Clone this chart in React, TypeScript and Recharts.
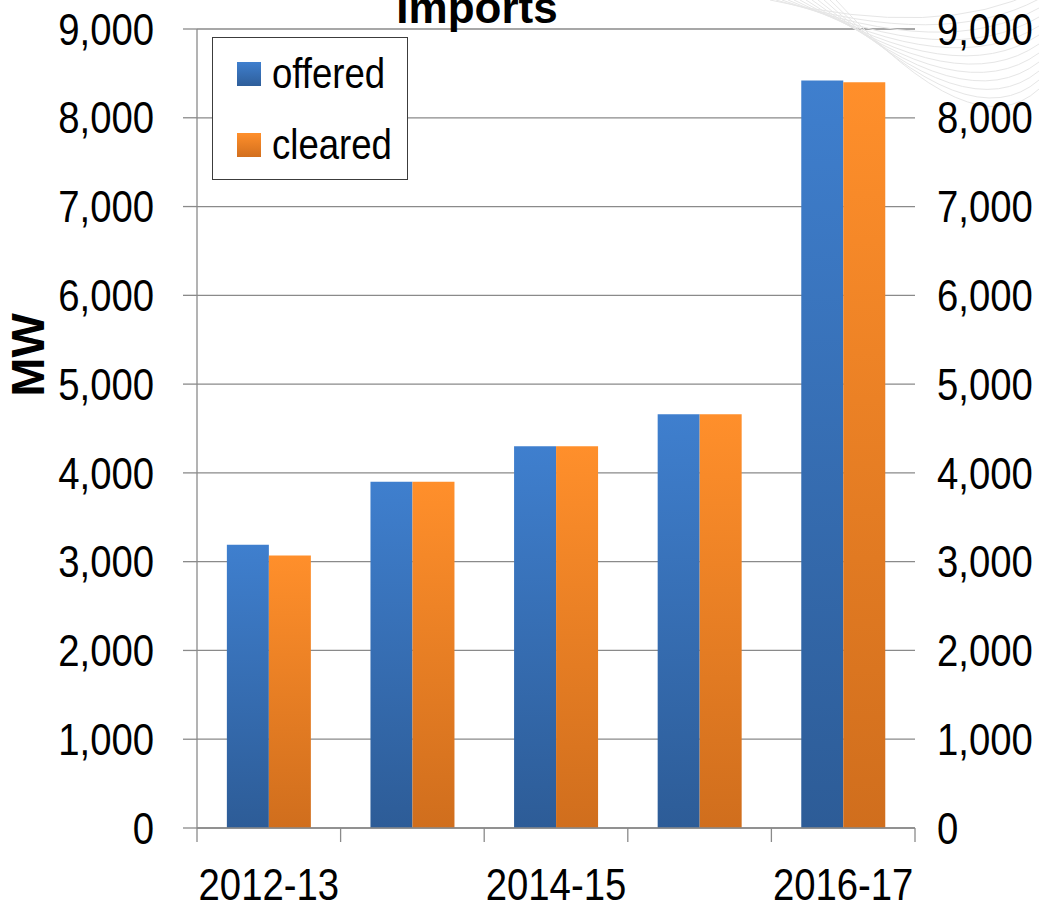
import { ComposedChart, Bar, Line, XAxis, YAxis, CartesianGrid, Legend } from 'recharts'

// Imports offered vs cleared, MW by delivery year
const categories = ['2012-13', '2013-14', '2014-15', '2015-16', '2016-17']
const offered = [3190, 3900, 4300, 4660, 8420]
const cleared = [3070, 3900, 4300, 4660, 8400]
const yTicks = [0, 1000, 2000, 3000, 4000, 5000, 6000, 7000, 8000, 9000]

const data = categories.map((year, i) => ({ year, offered: offered[i], cleared: cleared[i] }))

const CHART_W = 1039
const CHART_H = 909
const LEFT_W = 197
const RIGHT_W = 124
const FONT = '"Liberation Sans", Arial, sans-serif'
const SQUEEZE = 0.87 // the slide used a condensed face
const GRID = '#8a8a8a'

const fmt = (v: number) => v.toLocaleString('en-US')

const band = (CHART_W - LEFT_W - RIGHT_W) / categories.length

function NarrowText({ x, y, anchor, dy, size, children }: any) {
  return (
    <text
      x={0}
      y={0}
      dy={dy}
      transform={`translate(${x},${y}) scale(${SQUEEZE},1)`}
      textAnchor={anchor}
      fontSize={size}
      fontFamily={FONT}
      fill="#000"
    >
      {children}
    </text>
  )
}

function XTick(props: any) {
  const { x, y, payload, index } = props
  const top = y - 27 - 14
  const bottom = y - 27
  return (
    <g>
      <line x1={x - band / 2} x2={x - band / 2} y1={top} y2={bottom} stroke={GRID} strokeWidth={1.3} />
      {index === categories.length - 1 && (
        <line x1={x + band / 2} x2={x + band / 2} y1={top} y2={bottom} stroke={GRID} strokeWidth={1.3} />
      )}
      {index % 2 === 0 && (
        <NarrowText x={x} y={y} dy="0.71em" anchor="middle" size={44}>
          {payload.value}
        </NarrowText>
      )}
    </g>
  )
}

function LeftTick(props: any) {
  const { x, y, payload } = props
  return (
    <NarrowText x={x} y={y} dy="0.355em" anchor="end" size={44}>
      {fmt(payload.value)}
    </NarrowText>
  )
}

function RightTick(props: any) {
  const { x, y, payload } = props
  return (
    <NarrowText x={x} y={y} dy="0.355em" anchor="start" size={44}>
      {fmt(payload.value)}
    </NarrowText>
  )
}

function LegendBox() {
  const item = (top: number, label: string, from: string, to: string) => (
    <div style={{ position: 'absolute', left: 24, top: top - 12, height: 24, display: 'flex', alignItems: 'center' }}>
      <div style={{ width: 24, height: 24, background: `linear-gradient(${from}, ${to})` }} />
      <span
        style={{
          marginLeft: 11,
          fontSize: 42,
          fontFamily: FONT,
          color: '#000',
          lineHeight: '24px',
          display: 'inline-block',
          transform: `scaleX(${SQUEEZE})`,
          transformOrigin: 'left center',
        }}
      >
        {label}
      </span>
    </div>
  )
  return (
    <div style={{ position: 'relative', width: 196, height: 143, boxSizing: 'border-box', border: '1.5px solid #3c3c3c', background: '#fff' }}>
      {item(36, 'offered', '#3f7fce', '#2e5e9a')}
      {item(107, 'cleared', '#ff8f2b', '#d26f1e')}
    </div>
  )
}

// faint swoosh lines from the slide background, top right
const swoosh = [0, 1, 2, 3, 4, 5, 6, 7, 8, 9, 10, 11]

export default function App() {
  return (
    <div style={{ position: 'absolute', left: 0, top: 0, background: '#fff' }}>
      <ComposedChart
        width={CHART_W}
        height={CHART_H}
        data={data}
        margin={{ top: 29, right: 0, bottom: 0, left: 0 }}
        barCategoryGap="20.8%"
        barGap={0}
      >
        <defs>
          <linearGradient id="gOffered" x1="0" y1="0" x2="0" y2="1">
            <stop offset="0%" stopColor="#3f7fce" />
            <stop offset="100%" stopColor="#2d5c97" />
          </linearGradient>
          <linearGradient id="gCleared" x1="0" y1="0" x2="0" y2="1">
            <stop offset="0%" stopColor="#ff8f2b" />
            <stop offset="100%" stopColor="#d06e1d" />
          </linearGradient>
        </defs>
        <g fill="none" stroke="#e6e6e6" strokeWidth={1}>
          {swoosh.map((k) => (
            <path key={k} d={`M ${770 + k * 6} 0 Q ${940 + k * 3} ${40 + k * 10} 1039 ${-10 + k * 9}`} />
          ))}
        </g>
        <text x={477} y={23} textAnchor="middle" fontSize={44} fontWeight="bold" fontFamily={FONT} fill="#000">
          Imports
        </text>
        <text
          x={27}
          y={355}
          transform="rotate(-90, 27, 355)"
          textAnchor="middle"
          dominantBaseline="central"
          fontSize={47}
          fontWeight="bold"
          fontFamily={FONT}
          fill="#000"
        >
          MW
        </text>
        <CartesianGrid yAxisId="left" vertical={false} stroke={GRID} strokeWidth={1.3} />
        <XAxis
          dataKey="year"
          height={81}
          interval={0}
          tickLine={false}
          tickSize={14}
          tickMargin={27}
          axisLine={{ stroke: GRID, strokeWidth: 1.3 }}
          tick={<XTick />}
        />
        <YAxis
          yAxisId="left"
          width={LEFT_W}
          domain={[0, 9000]}
          ticks={yTicks}
          tickSize={14}
          tickMargin={29}
          axisLine={{ stroke: GRID, strokeWidth: 1.3 }}
          tickLine={{ stroke: GRID, strokeWidth: 1.3 }}
          tick={<LeftTick />}
        />
        <YAxis
          yAxisId="right"
          orientation="right"
          width={RIGHT_W}
          domain={[0, 9000]}
          ticks={yTicks}
          tickSize={0}
          tickMargin={22}
          axisLine={false}
          tickLine={false}
          tick={<RightTick />}
        />
        <Legend
          layout="vertical"
          align="center"
          verticalAlign="middle"
          wrapperStyle={{ top: 37, left: 212, width: 196, height: 143 }}
          content={<LegendBox />}
        />
        <Bar yAxisId="left" dataKey="offered" name="offered" fill="url(#gOffered)" isAnimationActive={false} />
        <Bar yAxisId="left" dataKey="cleared" name="cleared" fill="url(#gCleared)" isAnimationActive={false} />
        {/* invisible series so the mirrored right axis gets drawn */}
        <Line
          yAxisId="right"
          dataKey="offered"
          stroke="none"
          dot={false}
          activeDot={false}
          legendType="none"
          isAnimationActive={false}
        />
      </ComposedChart>
    </div>
  )
}
